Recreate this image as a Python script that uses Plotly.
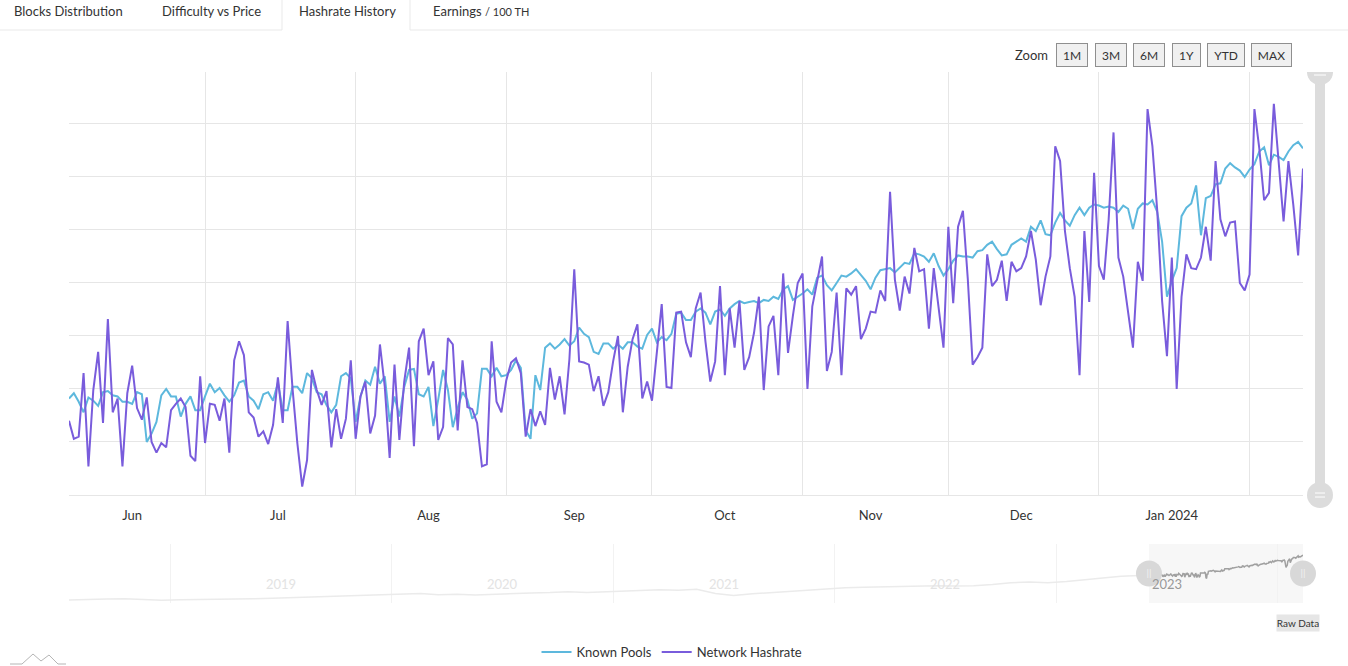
import numpy as np
import pandas as pd
import plotly.graph_objects as go

# daily hashrate, EH/s
start_date = "2023-06-03"

known_pools = [
    341, 346, 338, 328, 342, 339, 334, 347, 348, 344,
    343, 338, 338, 336, 347, 345, 300, 308, 319, 344,
    350, 343, 343, 324, 336, 343, 330, 330, 343, 355,
    347, 351, 344, 338, 344, 356, 358, 343, 339, 331,
    345, 347, 339, 356, 330, 330, 352, 352, 346, 365,
    360, 347, 345, 335, 328, 335, 362, 365, 360, 319,
    343, 358, 354, 371, 355, 362, 319, 343, 324, 352,
    368, 369, 345, 343, 352, 315, 340, 368, 349, 314,
    332, 347, 340, 322, 327, 369, 369, 362, 370, 362,
    363, 368, 377, 370, 311, 303, 363, 349, 389, 393,
    388, 392, 397, 391, 395, 408, 402, 399, 385, 383,
    393, 393, 388, 392, 388, 394, 394, 390, 388, 401,
    407, 394, 399, 396, 402, 421, 422, 415, 415, 423,
    426, 422, 411, 423, 425, 419, 426, 430, 433, 431,
    432, 433, 431, 434, 433, 437, 435, 444, 447, 434,
    437, 440, 444, 439, 455, 457, 448, 443, 450, 457,
    456, 459, 463, 457, 452, 444, 455, 462, 463, 464,
    460, 465, 469, 468, 478, 477, 475, 470, 478, 466,
    457, 463, 471, 476, 475, 475, 474, 480, 481, 486,
    489, 482, 476, 477, 486, 489, 492, 489, 503, 499,
    509, 496, 495, 507, 516, 509, 504, 514, 521, 514,
    521, 524, 523, 521, 522, 521, 517, 523, 520, 501,
    520, 525, 524, 528, 517, 489, 437, 452, 464, 513,
    521, 525, 542, 495, 530, 532, 543, 544, 558, 563,
    559, 556, 550, 557, 562, 574, 578, 561, 571, 569,
    566, 574, 580, 583, 577,
]

network_hashrate = [
    320, 303, 305, 365, 277, 349, 385, 318, 416, 328,
    341, 277, 346, 372, 332, 321, 342, 300, 290, 299,
    295, 330, 336, 341, 333, 287, 282, 362, 299, 336,
    335, 320, 341, 290, 377, 395, 382, 328, 323, 305,
    310, 298, 316, 361, 318, 414, 351, 299, 258, 283,
    368, 349, 335, 348, 295, 331, 303, 322, 377, 303,
    343, 357, 308, 325, 392, 352, 285, 373, 302, 357,
    389, 296, 395, 407, 363, 376, 302, 314, 398, 392,
    311, 377, 333, 331, 318, 277, 279, 395, 338, 328,
    358, 375, 379, 365, 305, 331, 315, 329, 316, 370,
    340, 362, 326, 378, 463, 376, 375, 373, 348, 362,
    334, 347, 376, 400, 328, 371, 397, 411, 341, 357,
    339, 387, 430, 352, 351, 422, 423, 394, 380, 426,
    441, 395, 357, 376, 447, 363, 426, 389, 433, 368,
    380, 403, 437, 349, 409, 419, 363, 459, 384, 419,
    450, 459, 350, 428, 450, 475, 367, 385, 441, 363,
    445, 439, 447, 397, 407, 423, 422, 443, 433, 536,
    453, 424, 456, 440, 483, 461, 463, 407, 464, 429,
    389, 503, 431, 503, 518, 454, 373, 380, 389, 477,
    447, 453, 471, 433, 470, 461, 464, 475, 499, 472,
    429, 456, 475, 579, 565, 499, 464, 437, 363, 499,
    432, 554, 466, 453, 510, 592, 474, 456, 423, 389,
    470, 452, 614, 579, 518, 433, 381, 474, 350, 437,
    477, 464, 463, 474, 503, 471, 565, 510, 494, 507,
    508, 450, 443, 458, 614, 577, 528, 535, 619, 560,
    508, 565, 524, 476, 558,
]

# navigator history, monthly (faint line at the bottom)
nav_start = "2018-07-18"
nav_history = [
    40, 50, 53, 55, 45, 38,
    42, 44, 45, 48, 55, 62, 68, 75, 85, 95, 95, 100,
    110, 120, 105, 110, 100, 110, 120, 125, 130, 140, 130, 140,
    150, 155, 165, 160, 170, 120, 95, 115, 130, 150, 165, 175,
    190, 195, 200, 210, 215, 215, 210, 215, 230, 250, 260, 250,
    265, 285, 310, 330, 340,
]

month_labels = ["Jun", "Jul", "Aug", "Sep", "Oct", "Nov", "Dec", "Jan 2024"]
month_label_dates = ["2023-06-16", "2023-07-16", "2023-08-16", "2023-09-15",
                     "2023-10-16", "2023-11-15", "2023-12-16", "2024-01-16"]
month_grid_dates = ["2023-07-01", "2023-08-01", "2023-09-01", "2023-10-01",
                    "2023-11-01", "2023-12-01", "2024-01-01", "2024-02-01"]

year_labels = ["2019", "2020", "2021", "2022", "2023"]
year_label_dates = ["2019-07-02", "2020-07-02", "2021-07-02", "2022-07-02", "2023-07-02"]
year_grid_dates = ["2019-01-01", "2020-01-01", "2021-01-01", "2022-01-01",
                   "2023-01-01", "2024-01-01"]

tabs = ["Blocks Distribution", "Difficulty vs Price", "Hashrate History",
        "Earnings <span style='font-size:11px'>/ 100 TH</span>"]
tab_x = [12, 160, 297, 431]
zoom_buttons = ["1M", "3M", "6M", "1Y", "YTD", "MAX"]
zoom_button_px = [(1056, 1088), (1095, 1127), (1133, 1165), (1172, 1201),
                  (1207, 1245), (1251, 1292)]

FONT = "Lato"
KP_COLOR = "#5db8dd"
NH_COLOR = "#795cdc"
GRID = "#e6e6e6"

W, H = 1348, 666
ML, MR, MT, MB = 69, 45, 72, 63
PW, PH = W - ML - MR, H - MT - MB


def px(x):
    # page x -> paper
    return (x - ML) / PW


def py(y):
    # page y -> paper
    return (H - MB - y) / PH


dates = pd.date_range(start_date, periods=len(network_hashrate), freq="D")
nav_dates = pd.date_range(nav_start, periods=len(nav_history), freq=pd.DateOffset(months=1))

fig = go.Figure()

fig.add_trace(go.Scatter(x=dates, y=known_pools, name="Known Pools", mode="lines",
                         line=dict(color=KP_COLOR, width=2)))
fig.add_trace(go.Scatter(x=dates, y=network_hashrate, name="Network Hashrate", mode="lines",
                         line=dict(color=NH_COLOR, width=2)))

# navigator: faint history, darker selected window
fig.add_trace(go.Scatter(x=list(nav_dates) + [dates[0]], y=nav_history + [known_pools[0]],
                         xaxis="x2", yaxis="y2", mode="lines", showlegend=False,
                         hoverinfo="skip", line=dict(color="#ebebeb", width=1.5)))
fig.add_trace(go.Scatter(x=dates, y=known_pools, xaxis="x2", yaxis="y2", mode="lines",
                         showlegend=False, hoverinfo="skip",
                         line=dict(color="#a0a0a0", width=1.5)))

nav_range = [3, 723]
fig.add_trace(go.Scatter(x=[dates[0], dates[-1]], y=[sum(nav_range) / 2] * 2,
                         xaxis="x2", yaxis="y2", mode="markers+text", text=["||", "||"],
                         textposition="middle center", cliponaxis=False,
                         textfont=dict(color="#f2f2f2", size=10, family=FONT),
                         marker=dict(size=26, color="#d8d8d8"),
                         showlegend=False, hoverinfo="skip"))

shapes = []
# selected window background in navigator
shapes.append(dict(type="rect", xref="x2", yref="y2 domain", x0=dates[0], x1=dates[-1],
                   y0=0, y1=1, fillcolor="#f7f7f7", line=dict(width=0), layer="below"))

# tab bar
line_c = "#e9e9e9"
shapes += [
    dict(type="line", xref="paper", yref="paper", x0=px(0), x1=px(282), y0=py(30), y1=py(30),
         line=dict(color=line_c, width=1)),
    dict(type="line", xref="paper", yref="paper", x0=px(410), x1=px(W), y0=py(30), y1=py(30),
         line=dict(color=line_c, width=1)),
    dict(type="line", xref="paper", yref="paper", x0=px(282), x1=px(282), y0=py(0), y1=py(30),
         line=dict(color=line_c, width=1)),
    dict(type="line", xref="paper", yref="paper", x0=px(410), x1=px(410), y0=py(0), y1=py(30),
         line=dict(color=line_c, width=1)),
]

# scrollbar on the right
sb = "#dcdcdc"
theta = np.linspace(0, np.pi, 24)
cap = " L ".join(f"{px(1320 + 13 * np.cos(t)):.5f},{py(72 + 13 * np.sin(t)):.5f}" for t in theta)
shapes += [
    dict(type="rect", xref="paper", yref="paper", x0=px(1315), x1=px(1325), y0=py(490), y1=py(80),
         fillcolor=sb, line=dict(width=0)),
    dict(type="path", xref="paper", yref="paper", path="M " + cap + " Z",
         fillcolor=sb, line=dict(width=0)),
    dict(type="line", xref="paper", yref="paper", x0=px(1314), x1=px(1326), y0=py(75), y1=py(75),
         line=dict(color="white", width=1)),
    dict(type="circle", xref="paper", yref="paper", x0=px(1307), x1=px(1333), y0=py(508), y1=py(482),
         fillcolor=sb, line=dict(width=0)),
    dict(type="line", xref="paper", yref="paper", x0=px(1315), x1=px(1325), y0=py(493), y1=py(493),
         line=dict(color="white", width=1)),
    dict(type="line", xref="paper", yref="paper", x0=px(1315), x1=px(1325), y0=py(497), y1=py(497),
         line=dict(color="white", width=1)),
]

# little logo bottom-left
logo = [(10, 664), (22, 664), (33, 654), (41, 661), (49, 655), (58, 664), (66, 664)]
shapes.append(dict(type="path", xref="paper", yref="paper",
                   path="M " + " L ".join(f"{px(a):.5f},{py(b):.5f}" for a, b in logo),
                   line=dict(color="#b5b5b5", width=1)))

annotations = []
for t, x in zip(tabs, tab_x):
    annotations.append(dict(text=t, x=px(x), y=py(11), xref="paper", yref="paper",
                            xanchor="left", yanchor="middle", showarrow=False,
                            font=dict(family=FONT, size=13, color="#333")))

annotations.append(dict(text="Zoom", x=px(1050), y=py(55), xref="paper", yref="paper",
                        xanchor="right", yanchor="middle", showarrow=False,
                        font=dict(family=FONT, size=13, color="#333")))
for label, (a, b) in zip(zoom_buttons, zoom_button_px):
    annotations.append(dict(text=label, x=px((a + b) / 2), y=py(55), xref="paper", yref="paper",
                            xanchor="center", yanchor="middle", showarrow=False,
                            width=b - a - 2, height=22, borderpad=0, borderwidth=1,
                            bordercolor="#8f8f8f", bgcolor="#f0f0f0",
                            font=dict(family=FONT, size=12, color="#333")))

annotations.append(dict(text="Raw Data", x=px(1298), y=py(623), xref="paper", yref="paper",
                        xanchor="center", yanchor="middle", showarrow=False,
                        width=42, height=16, borderpad=0, bgcolor="#e6e6e6",
                        font=dict(family=FONT, size=10, color="#333")))

# navigator year labels (faded outside the selected window)
year_colors = ["#e3e3e3"] * (len(year_labels) - 1) + ["#999999"]
for lab, d, c in zip(year_labels, year_label_dates, year_colors):
    annotations.append(dict(text=lab, x=d, y=py(584), xref="x2", yref="paper",
                            xanchor="center", yanchor="middle", showarrow=False,
                            font=dict(family=FONT, size=13, color=c)))

fig.update_layout(
    width=W, height=H,
    margin=dict(l=ML, r=MR, t=MT, b=MB, autoexpand=False),
    paper_bgcolor="white", plot_bgcolor="white",
    font=dict(family=FONT, size=13, color="#333"),
    xaxis=dict(
        domain=[0, 1], anchor="y", range=[dates[0], dates[-1]],
        tickmode="array", tickvals=month_label_dates, ticktext=month_labels,
        showgrid=False, ticks="", ticklabelstandoff=8, zeroline=False,
        showline=True, linecolor=GRID, linewidth=1,
        tickfont=dict(family=FONT, size=13, color="#333"),
        minor=dict(tickmode="array", tickvals=month_grid_dates, showgrid=True,
                   gridcolor=GRID, gridwidth=1, ticks=""),
    ),
    yaxis=dict(
        domain=[py(495), 1], anchor="x", range=[250, 649], tick0=250, dtick=50,
        showticklabels=False, gridcolor=GRID, zeroline=False,
    ),
    xaxis2=dict(
        domain=[0, 1], anchor="y2", range=[nav_dates[0], dates[-1]],
        showticklabels=False, ticks="", showgrid=False, zeroline=False, showline=False,
        minor=dict(tickmode="array", tickvals=year_grid_dates, showgrid=True,
                   gridcolor="#f2f2f2", ticks=""),
    ),
    yaxis2=dict(domain=[0, py(544)], anchor="x2", range=nav_range, visible=False),
    legend=dict(orientation="h", x=px(672), y=py(652), xanchor="center", yanchor="middle",
                font=dict(family=FONT, size=13, color="#333"), itemwidth=30),
    shapes=shapes,
    annotations=annotations,
    hovermode="x",
)

# the page's default 8px body margin would push the figure off the top-left corner
fig.write_html("out.html", config={"displayModeBar": False},
               post_script="document.body.style.margin = '0';")
